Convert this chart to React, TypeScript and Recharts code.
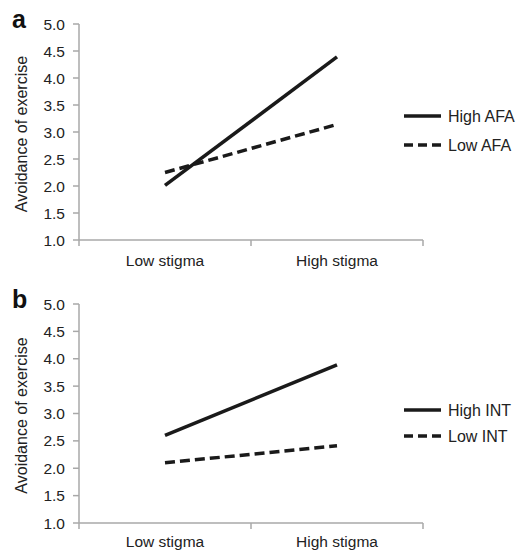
import React from 'react';
import { LineChart, Line, XAxis, YAxis } from 'recharts';

const categories = ['Low stigma', 'High stigma'];
const highAFA = [2.01, 4.39];
const lowAFA = [2.25, 3.14];
const highINT = [2.6, 3.89];
const lowINT = [2.1, 2.41];
const yTicks = [1.0, 1.5, 2.0, 2.5, 3.0, 3.5, 4.0, 4.5, 5.0];
const yTitle = 'Avoidance of exercise';

const FONT = '"Liberation Sans", Arial, Helvetica, sans-serif';
const TEXT = '#222';
const AXIS = '#a8a8a8';
const LINE = '#1a1a1a';

type PanelProps = {
  letter: string;
  highName: string;
  lowName: string;
  high: number[];
  low: number[];
  top: number;
  height: number;
  marginTop: number;
  xAxisHeight: number;
  labelOffset: number;
  legendY: [number, number];
};

const Panel = ({ letter, highName, lowName, high, low, top, height, marginTop, xAxisHeight, labelOffset, legendY }: PanelProps) => {
  const data = categories.map((c, i) => ({ x: i + 0.5, name: c, high: high[i], low: low[i] }));
  const xTicks: number[] = [];
  for (let i = 0; i <= categories.length; i++) {
    xTicks.push(i);
    if (i < categories.length) xTicks.push(i + 0.5);
  }
  const renderXTick = (props: any) => {
    const { x, y, payload } = props;
    const v = payload.value as number;
    if (Number.isInteger(v)) {
      return <line x1={x} x2={x} y1={y} y2={y + 6} stroke={AXIS} strokeWidth={1.5} />;
    }
    return (
      <text x={x} y={y + labelOffset} dy="0.71em" textAnchor="middle" fontSize={15.5} fill={TEXT} fontFamily={FONT}>
        {categories[Math.floor(v)]}
      </text>
    );
  };
  const renderYLabel = (props: any) => {
    const vb = props.viewBox || {};
    const cy = (vb.y ?? 0) + (vb.height ?? 0) / 2 + 2;
    const x = 27;
    return (
      <text x={x} y={cy} transform={`rotate(-90, ${x}, ${cy})`} textAnchor="middle" fontSize={16} fill={TEXT} fontFamily={FONT}>
        {yTitle}
      </text>
    );
  };
  return (
    <div style={{ position: 'absolute', left: 0, top, width: 516, height }}>
      <LineChart width={516} height={height} data={data} margin={{ top: marginTop, right: 93, bottom: 0, left: 0 }}>
        <XAxis
          dataKey="x"
          type="number"
          domain={[0, categories.length]}
          ticks={xTicks}
          interval={0}
          tickLine={false}
          tickSize={0}
          tickMargin={0}
          height={xAxisHeight}
          axisLine={{ stroke: AXIS, strokeWidth: 1.5 }}
          tick={renderXTick}
        />
        <YAxis
          type="number"
          domain={[1, 5]}
          ticks={yTicks}
          interval={0}
          width={79}
          tickFormatter={(v: number) => v.toFixed(1)}
          tick={{ fontSize: 15.5, fill: TEXT, fontFamily: FONT }}
          tickSize={6}
          tickMargin={8}
          tickLine={{ stroke: AXIS, strokeWidth: 1.5 }}
          axisLine={{ stroke: AXIS, strokeWidth: 1.5 }}
          label={{ content: renderYLabel }}
        />
        <Line dataKey="high" stroke={LINE} strokeWidth={3.5} dot={false} isAnimationActive={false} />
        <Line dataKey="low" stroke={LINE} strokeWidth={3.5} strokeDasharray="10 5" dot={false} isAnimationActive={false} />
      </LineChart>
      <svg width={516} height={height} style={{ position: 'absolute', left: 0, top: 0, pointerEvents: 'none' }}>
        <text x={12} y={marginTop + 4} fontSize={25} fontWeight="bold" fill="#111" fontFamily={FONT}>{letter}</text>
        <line x1={404} x2={441} y1={legendY[0]} y2={legendY[0]} stroke={LINE} strokeWidth={3.5} />
        <text x={448} y={legendY[0]} dy="0.36em" fontSize={16} fill={TEXT} fontFamily={FONT}>{highName}</text>
        <line x1={404} x2={441} y1={legendY[1]} y2={legendY[1]} stroke={LINE} strokeWidth={3.5} strokeDasharray="9 5" />
        <text x={448} y={legendY[1]} dy="0.36em" fontSize={16} fill={TEXT} fontFamily={FONT}>{lowName}</text>
      </svg>
    </div>
  );
};

export default function App() {
  return (
    <div style={{ position: 'absolute', left: 0, top: 0, width: 516, height: 551, background: '#fff', fontFamily: FONT }}>
      <Panel letter="a" highName="High AFA" lowName="Low AFA" high={highAFA} low={lowAFA}
        top={0} height={270} marginTop={24} xAxisHeight={30} labelOffset={15} legendY={[116, 145]} />
      <Panel letter="b" highName="High INT" lowName="Low INT" high={highINT} low={lowINT}
        top={270} height={281} marginTop={34} xAxisHeight={28} labelOffset={13} legendY={[140, 166]} />
    </div>
  );
}
